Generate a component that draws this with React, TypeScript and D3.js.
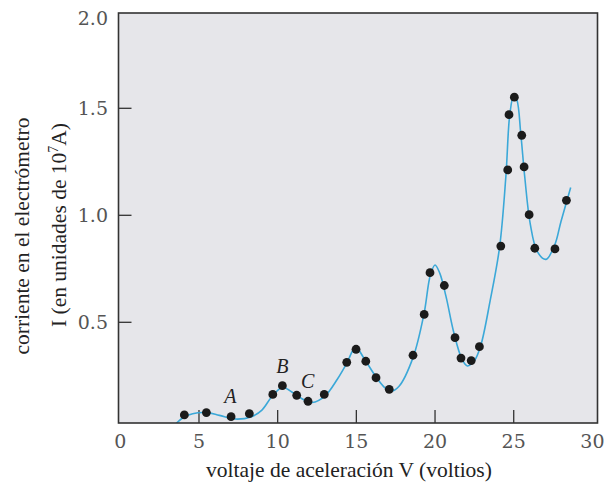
import React from "react";
import * as d3 from "d3";

const pointV = [4.07, 5.47, 7.04, 8.2, 9.69, 10.3, 11.21, 11.93, 12.96, 14.39, 14.98, 15.6, 16.25, 17.09, 18.6, 19.31, 19.68, 20.59, 21.27, 21.65, 22.3, 22.82, 24.18, 24.62, 24.7, 25.04, 25.51, 25.66, 25.98, 26.34, 27.62, 28.35];
const pointI = [0.067, 0.078, 0.059, 0.073, 0.163, 0.204, 0.159, 0.131, 0.163, 0.313, 0.374, 0.318, 0.241, 0.187, 0.346, 0.537, 0.732, 0.672, 0.428, 0.333, 0.321, 0.386, 0.856, 1.212, 1.47, 1.552, 1.374, 1.226, 1.003, 0.846, 0.843, 1.07];

const curveV = [3.45, 4.0, 4.6, 5.5, 6.3, 7.3, 8.3, 9.0, 9.6, 10.3, 11.0, 11.6, 12.2, 13.0, 13.8, 14.4, 14.95, 15.5, 16.2, 16.8, 17.2, 17.7, 18.6, 19.3, 19.7, 20.0, 20.3, 20.7, 21.2, 21.7, 22.05, 22.5, 22.9, 23.5, 24.1, 24.5, 24.75, 25.0, 25.2, 25.45, 25.7, 26.05, 26.5, 27.05, 27.6, 28.0, 28.62];
const curveI = [0.02, 0.055, 0.073, 0.078, 0.065, 0.048, 0.058, 0.09, 0.15, 0.195, 0.17, 0.14, 0.125, 0.155, 0.235, 0.31, 0.383, 0.33, 0.25, 0.195, 0.178, 0.2, 0.335, 0.54, 0.72, 0.768, 0.73, 0.62, 0.45, 0.33, 0.296, 0.32, 0.39, 0.6, 0.85, 1.18, 1.47, 1.56, 1.54, 1.38, 1.18, 0.96, 0.83, 0.794, 0.86, 0.97, 1.13];

const xTicks = [0, 5, 10, 15, 20, 25, 30];
const yTicks = [0.5, 1.0, 1.5];
const yTopLabel = "2.0";

const annotV = [7.0, 10.3, 11.9];
const annotI = [0.125, 0.262, 0.192];
const annotText = ["A", "B", "C"];

const W = 608;
const H = 487;
const frameL = 118.5, frameR = 597.5, frameT = 13, frameB = 423;

export default function App() {
  const x = d3.scaleLinear().domain([0, 30]).range([120.3, 592.4]);
  const y = d3.scaleLinear().domain([0, 1]).range([429.3, 215.3]);
  const yMaxVal = y.invert(frameT);

  const curvePts: [number, number][] = curveV.map((v, i) => [x(v), y(curveI[i])]);
  const line = d3.line<[number, number]>().curve(d3.curveCatmullRom.alpha(0.5));
  const d = line(curvePts) || "";

  const serif = "'Liberation Serif', 'Times New Roman', serif";
  const tickFont = "'DejaVu Serif', serif";

  return (
    <svg width={W} height={H} style={{ position: "absolute", left: 0, top: 0, background: "#fff" }}>
      <defs>
        <clipPath id="plotclip">
          <rect x={frameL} y={frameT} width={frameR - frameL} height={frameB - frameT} />
        </clipPath>
      </defs>
      <rect x={frameL} y={frameT} width={frameR - frameL} height={frameB - frameT} fill="#e6e6ea" />
      {xTicks.filter(t => t > 0 && t < 30).map(t => (
        <line key={"xt" + t} x1={x(t)} x2={x(t)} y1={frameB} y2={frameB - 13} stroke="#333" strokeWidth={1.3} />
      ))}
      {yTicks.map(t => (
        <line key={"yt" + t} x1={frameL} x2={frameL + 13} y1={y(t)} y2={y(t)} stroke="#333" strokeWidth={1.3} />
      ))}
      <g clipPath="url(#plotclip)">
        <path d={d} fill="none" stroke="#3ba8d8" strokeWidth={1.6} />
        {pointV.map((v, i) => (
          <circle key={"p" + i} cx={x(v)} cy={y(pointI[i])} r={4.4} fill="#1b1b1b" />
        ))}
      </g>
      <rect x={frameL} y={frameT} width={frameR - frameL} height={frameB - frameT} fill="none" stroke="#333" strokeWidth={1.6} />
      {annotText.map((t, i) => (
        <text key={"a" + t} x={x(annotV[i])} y={y(annotI[i])} textAnchor="middle" fontFamily={serif} fontStyle="italic" fontSize={20} fill="#222">{t}</text>
      ))}
      {xTicks.map(t => (
        <text key={"xl" + t} x={x(t)} y={448} textAnchor="middle" fontFamily={tickFont} fontSize={19} fill="#555">{t}</text>
      ))}
      {yTicks.map(t => (
        <text key={"yl" + t} x={108} y={y(t) + 7} textAnchor="end" fontFamily={tickFont} fontSize={19} fill="#555">{d3.format(".1f")(t)}</text>
      ))}
      <text x={108} y={y(yMaxVal) + 12} textAnchor="end" fontFamily={tickFont} fontSize={19} fill="#555">{yTopLabel}</text>
      <text x={349} y={477} textAnchor="middle" fontFamily={serif} fontSize={21.5} fill="#222">voltaje de aceleración V (voltios)</text>
      <text transform={`translate(28.5,236) rotate(-90)`} textAnchor="middle" fontFamily={serif} fontSize={21.5} fill="#222">corriente en el electrómetro</text>
      <text transform={`translate(65.5,225) rotate(-90)`} textAnchor="middle" fontFamily={serif} fontSize={21.5} fill="#222">
        I (en unidades de 10<tspan dy={-8} fontSize={14}>7</tspan><tspan dy={8}>A)</tspan>
      </text>
    </svg>
  );
}
